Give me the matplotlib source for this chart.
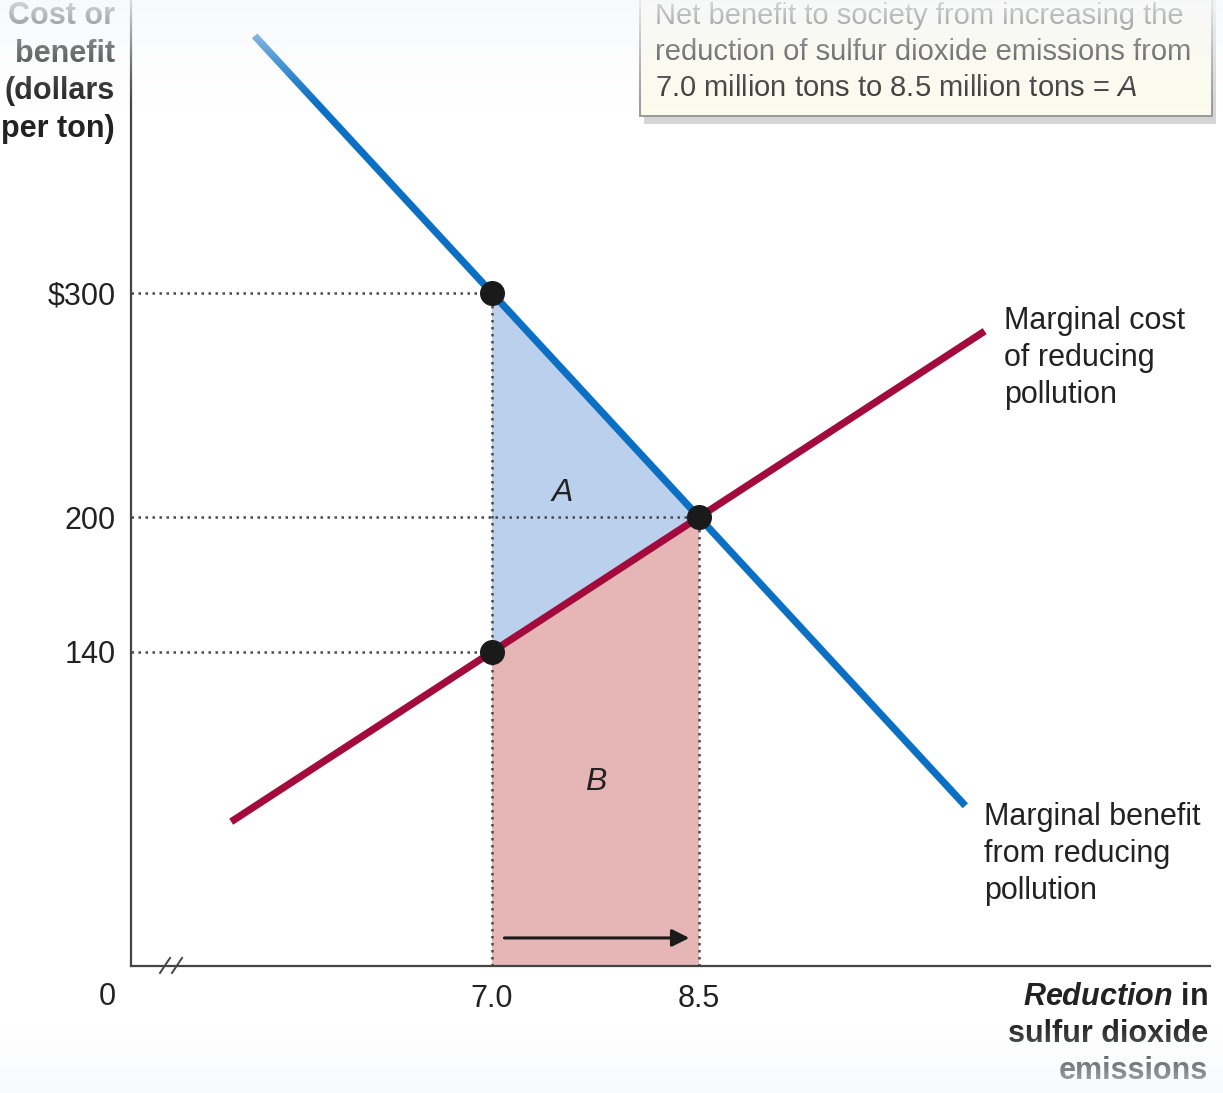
import numpy as np
import matplotlib
matplotlib.use('Agg')
import matplotlib.pyplot as plt
from matplotlib.patches import Rectangle

plt.rcParams['font.family'] = ['Liberation Sans', 'DejaVu Sans']
plt.rcParams['mathtext.fontset'] = 'custom'
plt.rcParams['mathtext.rm'] = 'Liberation Sans'
plt.rcParams['mathtext.it'] = 'Liberation Sans:italic'
plt.rcParams['mathtext.bf'] = 'Liberation Sans:bold'
plt.rcParams['mathtext.bfit'] = 'Liberation Sans:bold:italic'

# donnees
mb_x = [5.28, 10.43]          # benefice marginal (bleu)
mb_y = [414.5, 71.4]
mc_x = [5.11, 10.57]          # cout marginal (rouge)
mc_y = [64.3, 282.9]
pts_x = [7.0, 8.5, 7.0]
pts_y = [300, 200, 140]
area_a_x = [7.0, 8.5, 7.0]
area_a_y = [300, 200, 140]
area_b_x = [7.0, 8.5, 8.5, 7.0]
area_b_y = [140, 200, 0, 0]
y_ticks = [140, 200, 300]
y_labels = ['140', '200', '$300']
x_ticks = [7.0, 8.5]
x_labels = ['7.0', '8.5']

W, H = 1223, 1093
fig = plt.figure(figsize=(W / 100, H / 100), dpi=100)
fig.patch.set_facecolor('white')


def fx(px):
    return px / W


def fy(py):
    return 1 - py / H


ax = fig.add_axes([fx(131), fy(966), (1210 - 131) / W, 966 / H])
ax.set_xlim(7 - (492 - 131) / 138, 7 + (1210 - 492) / 138)
ax.set_ylim(0, 966 / 2.244)

for s in ['top', 'right']:
    ax.spines[s].set_visible(False)
for s in ['left', 'bottom']:
    ax.spines[s].set_linewidth(1.6)
    ax.spines[s].set_color('#444444')

# aires A et B
ax.fill(area_a_x, area_a_y, color='#bad0ec', lw=0, zorder=1)
ax.fill(area_b_x, area_b_y, color='#e6b6b7', lw=0, zorder=1)

# lignes pointillees
dot = dict(color='#4a4a4a', lw=1.8, ls=(0, (1, 1.8)), zorder=2)
xmin = ax.get_xlim()[0]
for px_, py_ in zip(pts_x, pts_y):
    ax.plot([xmin, px_], [py_, py_], **dot)
ax.plot([7.0, 7.0], [0, 300], **dot)
ax.plot([8.5, 8.5], [0, 200], **dot)

# courbes
ax.plot(mc_x, mc_y, color='#a20b3b', lw=5.2, solid_capstyle='butt', zorder=3)
ax.plot(mb_x, mb_y, color='#0b6fc3', lw=5.2, solid_capstyle='butt', zorder=3)
ax.plot(pts_x, pts_y, 'o', color='#1a1a1a', ms=17, zorder=4)

# fleche
ax.annotate('', xy=(8.43, 12.5), xytext=(7.09, 12.5),
            arrowprops=dict(arrowstyle='-|>', color='#1a1a1a', lw=2.2,
                            mutation_scale=26, shrinkA=0, shrinkB=0))

# coupure de l'axe
for x0 in [4.594, 4.681]:
    ax.plot([x0, x0 + 0.073], [-3.1, 3.6], color='#444444', lw=1.4,
            clip_on=False, zorder=5)

ax.text(7.51, 210.7, 'A', fontsize=23, style='italic', color='#222222',
        ha='center', va='center', zorder=5)
ax.text(7.75, 82.1, 'B', fontsize=23, style='italic', color='#222222',
        ha='center', va='center', zorder=5)

ax.set_yticks(y_ticks)
ax.set_yticklabels(y_labels)
ax.set_xticks(x_ticks)
ax.set_xticklabels(x_labels)
ax.tick_params(axis='both', length=0, labelsize=22, labelcolor='#222222')
ax.tick_params(axis='y', pad=11)
ax.tick_params(axis='x', pad=13)

txt = dict(fontsize=22, color='#222222', va='center')
fig.text(fx(107), fy(997), '0', ha='center', **txt)

for i, line in enumerate(['Marginal cost', 'of reducing', 'pollution']):
    fig.text(fx(1004), fy(321 + 37 * i), line, ha='left', **txt)
for i, line in enumerate(['Marginal benefit', 'from reducing', 'pollution']):
    fig.text(fx(984), fy(817 + 37 * i), line, ha='left', **txt)

for i, line in enumerate(['Cost or', 'benefit', '(dollars', 'per ton)']):
    fig.text(fx(115), fy(16 + 37.5 * i), line, ha='right', fontweight='bold', **txt)

fig.text(fx(1208), fy(997), r'$\mathbfit{Reduction}$ in', ha='right',
         fontweight='bold', **txt)
fig.text(fx(1208), fy(1034), 'sulfur dioxide', ha='right', fontweight='bold', **txt)
fig.text(fx(1208), fy(1071), 'emissions', ha='right', fontweight='bold', **txt)

# encadre
fig.add_artist(Rectangle((fx(644), fy(124)), (1216 - 644) / W, 140 / H,
                         transform=fig.transFigure, facecolor='#c4c4c4',
                         edgecolor='none', alpha=0.7, zorder=2))
fig.add_artist(Rectangle((fx(640), fy(116)), (1212 - 640) / W, 130 / H,
                         transform=fig.transFigure, facecolor='#fcfbee',
                         edgecolor='#9a9a9a', lw=1.4, zorder=2.5))
box_lines = ['Net benefit to society from increasing the',
             'reduction of sulfur dioxide emissions from',
             r'7.0 million tons to 8.5 million tons = $\mathit{A}$']
for i, line in enumerate(box_lines):
    fig.text(fx(655), fy(16 + 36 * i), line, ha='left', fontsize=21,
             color='#333333', va='center', zorder=3)

# degrades haut et bas
top = fig.add_axes([0, fy(110), 1, 110 / H])
top.set_zorder(10)
grad = np.zeros((110, 2, 4))
grad[..., :3] = [0.965, 0.973, 0.988]
grad[..., 3] = (0.85 * np.linspace(1, 0, 110) ** 1.3)[:, None]
top.imshow(grad, aspect='auto', extent=[0, 1, 0, 1])
top.axis('off')

bot = fig.add_axes([0, 0, 1, 70 / H])
bot.set_zorder(10)
grad2 = np.zeros((70, 2, 4))
grad2[..., :3] = [0.965, 0.973, 0.988]
grad2[..., 3] = np.linspace(0, 0.7, 70)[:, None]
bot.imshow(grad2, aspect='auto', extent=[0, 1, 0, 1])
bot.axis('off')

fig.savefig('out.png', dpi=100)
